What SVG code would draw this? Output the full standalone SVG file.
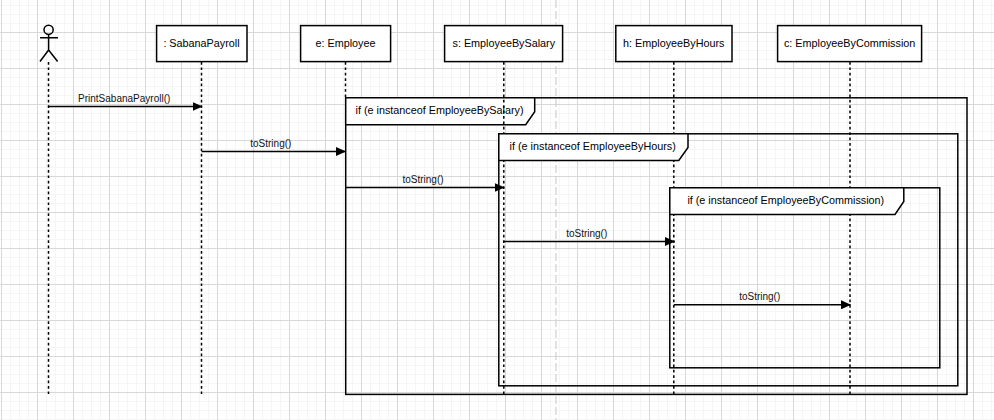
<svg xmlns="http://www.w3.org/2000/svg" width="994" height="420" viewBox="0 0 994 420">
<style>
text{font-family:"Liberation Sans",Arial,sans-serif;fill:#000;text-anchor:middle}
.lbl{font-size:10.8px}
.msg{font-size:10px;fill:#111}
.box{fill:#fff;stroke:#000;stroke-width:1.5}
.frame{fill:none;stroke:#000;stroke-width:1.5}
.tab{fill:#fff;stroke:#000;stroke-width:1.5}
.life{fill:none;stroke:#000;stroke-width:1.5;stroke-dasharray:2.7 2.7}
.arrow{fill:none;stroke:#000;stroke-width:1.4;marker-end:url(#head)}
.actor{fill:none;stroke:#000;stroke-width:1.5}
</style>
<defs>
<marker id="head" markerUnits="userSpaceOnUse" markerWidth="10" markerHeight="9" refX="9.5" refY="4.5" orient="auto"><path d="M0 0L10 4.5L0 9Z" fill="#000"/></marker>
<pattern id="grid" width="36" height="36" patternUnits="userSpaceOnUse">
<path d="M10.5 0V36M19.5 0V36M28.5 0V36M0 5.5H36M0 14.5H36M0 23.5H36" stroke="#f5f5f5" stroke-width="1" fill="none"/>
<path d="M1.5 0V36M0 32.5H36" stroke="#d8d8d8" stroke-width="1" fill="none"/>
</pattern>
</defs>
<rect width="994" height="420" fill="#fff"/>
<rect width="994" height="420" fill="url(#grid)"/>
<path d="M556 0V420" stroke="#d0d0d0" stroke-width="1.2" stroke-dasharray="8 3" fill="none"/>
<g id="frame-salary">
<rect class="frame" x="345.7" y="97.8" width="621.3" height="296.6"/>
<path class="tab" d="M345.7 97.8H534.7V111.7L525.7 124.7H345.7Z"/>
<text class="lbl" x="439.5" y="114">if (e instanceof EmployeeBySalary)</text>
</g>
<g id="connectors-lifelines">
<path class="life" d="M48.5 62V394"/>
<path class="life" d="M201.5 62V394"/>
<path class="life" d="M345.5 62V98"/>
<path class="life" d="M503.8 62V394"/>
<path class="life" d="M673.8 62V394"/>
<path class="life" d="M850 62V394"/>
</g>
<g id="frame-hours">
<rect class="frame" x="498.8" y="133.8" width="459" height="252"/>
<path class="tab" d="M498.8 133.8H688V147.5L678.8 160.4H498.8Z"/>
<text class="lbl" x="592.7" y="150">if (e instanceof EmployeeByHours)</text>
</g>
<g id="frame-commission">
<rect class="frame" x="669.8" y="187.8" width="270" height="180"/>
<path class="tab" d="M669.8 187.8H903.8V201.5L895 214.4H669.8Z"/>
<text class="lbl" x="785.8" y="204">if (e instanceof EmployeeByCommission)</text>
</g>
<g id="actor">
<circle class="actor" cx="48.6" cy="29.8" r="4.6"/>
<path class="actor" d="M48.6 34.4V50M40 37.8H58M48.6 50L40 61.5M48.6 50L57.6 61.5"/>
</g>
<g id="node-payroll"><rect class="box" x="156.6" y="25.6" width="90.4" height="36"/><text class="lbl" x="201.5" y="47">: SabanaPayroll</text></g>
<g id="node-employee"><rect class="box" x="300.6" y="25.6" width="90" height="36"/><text class="lbl" x="345.5" y="47">e: Employee</text></g>
<g id="node-salary"><rect class="box" x="444.6" y="25.6" width="118" height="36"/><text class="lbl" x="503.8" y="47">s: EmployeeBySalary</text></g>
<g id="node-hours"><rect class="box" x="615.8" y="25.6" width="116.2" height="36"/><text class="lbl" x="673.8" y="47">h: EmployeeByHours</text></g>
<g id="node-commission"><rect class="box" x="777.6" y="25.6" width="144" height="36"/><text class="lbl" x="849.6" y="47">c: EmployeeByCommission</text></g>
<g id="connectors-messages">
<path class="arrow" d="M48.5 106.5H202"/>
<path class="arrow" d="M201.5 151.5H345.5"/>
<path class="arrow" d="M345.5 187.5H504"/>
<path class="arrow" d="M503.8 241.5H674.5"/>
<path class="arrow" d="M673.8 304.8H850.5"/>
<text class="msg" x="124.2" y="102">PrintSabanaPayroll()</text>
<text class="msg" x="270.8" y="147">toString()</text>
<text class="msg" x="423" y="183">toString()</text>
<text class="msg" x="586.7" y="237">toString()</text>
<text class="msg" x="759.7" y="300.3">toString()</text>
</g>
</svg>
